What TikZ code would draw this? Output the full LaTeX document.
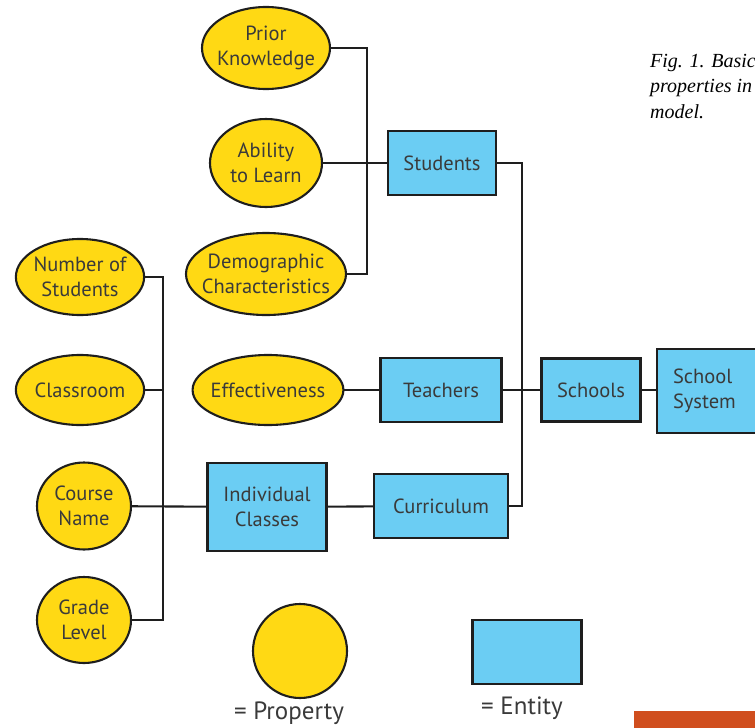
\documentclass[tikz,border=0pt]{standalone}
\usepackage{fontspec}
\setmainfont{PT Sans}
\newfontfamily\capfont{Liberation Serif}
\usetikzlibrary{shapes.geometric}
\definecolor{propY}{HTML}{FFD914}
\definecolor{entB}{HTML}{6BCDF3}
\definecolor{txtG}{HTML}{3A3A3A}
\definecolor{lineK}{HTML}{1E1E1E}
\definecolor{barO}{HTML}{D04E1E}
\tikzset{
  prop/.style={ellipse, draw=lineK, line width=2.1pt, fill=propY, inner sep=0pt, align=center, text=txtG,
    font=\fontsize{20.5}{25}\selectfont},
  ent/.style={rectangle, draw=lineK, line width=2.1pt, fill=entB, inner sep=0pt, align=center, text=txtG,
    font=\fontsize{20.5}{25}\selectfont},
  conn/.style={draw=lineK, line width=2.1pt},
  legtext/.style={text=txtG, font=\fontsize{25}{30}\selectfont, inner sep=0pt},
  captext/.style={font=\capfont\itshape\fontsize{20}{25.5}\selectfont, align=left, anchor=north west, inner sep=0pt}
}
\begin{document}
\begin{tikzpicture}[x=1pt,y=-1pt]
\useasboundingbox (0,0) rectangle (755,728);
% properties
\node[prop, minimum width=128, minimum height=82, inner xsep=-4pt] (prior) at (266,48) {Prior\\Knowledge};
\node[prop, minimum width=112, minimum height=88] (ability) at (266,163) {Ability\\to Learn};
\node[prop, minimum width=160, minimum height=82, inner xsep=-8.5pt] (demo) at (266,274) {Demographic\\Characteristics};
\node[prop, minimum width=128, minimum height=76, inner xsep=-1pt] (nos) at (80,277) {Number of\\Students};
\node[prop, minimum width=128, minimum height=70] (classroom) at (80,390) {Classroom};
\node[prop, minimum width=94, minimum height=87] (course) at (84,506) {Course\\Name};
\node[prop, minimum width=94, minimum height=86] (grade) at (84,620) {Grade\\Level};
\node[prop, minimum width=150, minimum height=70, inner xsep=-4pt] (effect) at (268,390) {Effectiveness};
% entities
\node[ent, minimum width=108, minimum height=64] (students) at (442,163) {Students};
\node[ent, minimum width=121, minimum height=64] (teachers) at (441,390) {Teachers};
\node[ent, minimum width=99, minimum height=63] (schools) at (591,390) {Schools};
\node[ent, minimum width=120, minimum height=84, text width=88pt, align=left] (system) at (717,391) {School\\System};
\node[ent, minimum width=119, minimum height=88] (indiv) at (267,507) {Individual\\Classes};
\node[ent, minimum width=134, minimum height=64] (curric) at (441,506) {Curriculum};
% junctions
\coordinate (jS) at (367,163);
\coordinate (jT) at (522,390);
\coordinate (jC) at (163,506);
% connectors
\draw[conn] (prior.east) -| (jS) |- (demo.east);
\draw[conn] (ability) -- (students);
\draw[conn] (students.east) -| (jT) |- (curric.east);
\draw[conn] (effect) -- (teachers);
\draw[conn] (teachers) -- (schools);
\draw[conn] (schools.east) -- (schools.east -| system.west);
\draw[conn] (indiv) -- (curric);
\draw[conn] (nos.east) -| (jC) |- (grade.east);
\draw[conn] (classroom.east) -- (classroom.east -| jC);
\draw[conn] (course) -- (indiv);
% legend
\node[circle, draw=lineK, line width=2.1pt, fill=propY, minimum size=94, inner sep=0pt] (legP) at (300,651) {};
\node[legtext] (legPt) at (289,713) {= Property};
\node[rectangle, draw=lineK, line width=2.1pt, fill=entB, minimum width=109, minimum height=64, inner sep=0pt] (legE) at (527,652) {};
\node[legtext] (legEt) at (522,708) {= Entity};
% caption
\node[captext] (cap) at (650,54) {Fig. 1. Basic\\properties in\\model.};
% orange bar
\fill[barO] (634,711) rectangle (755,728);
\end{tikzpicture}
\end{document}
